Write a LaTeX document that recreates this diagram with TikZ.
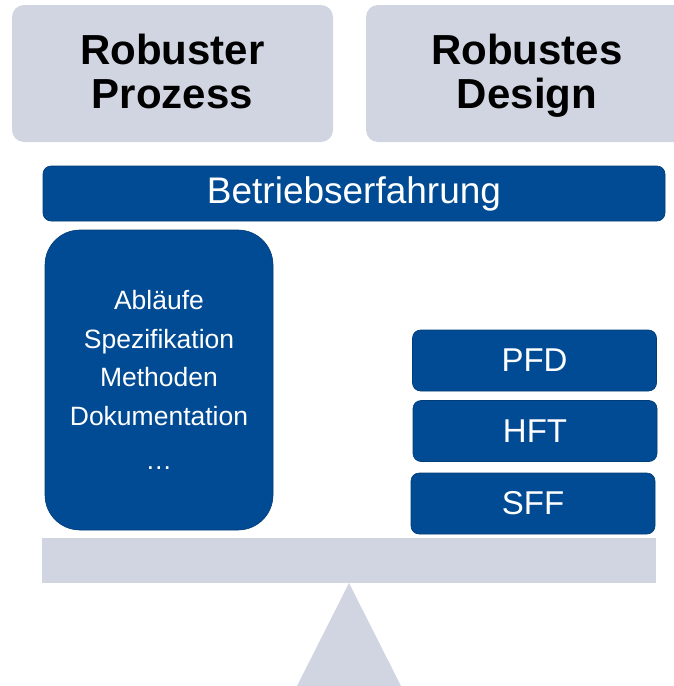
\documentclass[tikz,border=0pt]{standalone}
\usepackage{fontspec}
\setmainfont{Liberation Sans}
\usepackage{tikz}
\usetikzlibrary{positioning}
\definecolor{dunkelblau}{HTML}{004B93}
\definecolor{hellgrau}{HTML}{D0D5E1}

\begin{document}
\begin{tikzpicture}[x=1pt,y=-1pt,
    ziel/.style={rectangle, rounded corners=12pt, fill=hellgrau, minimum height=137pt},
    zieltext/.style={align=center, font=\fontsize{42}{44}\selectfont\bfseries},
    balken/.style={rectangle, rounded corners=8pt, fill=dunkelblau, draw=dunkelblau!80!black, line width=0.6pt, text=white},
    kachel/.style={balken, minimum width=244pt, minimum height=61pt, font=\fontsize{33}{36}\selectfont}]
    \useasboundingbox (0,0) rectangle (674,686);
    \node[ziel, minimum width=321pt] (prozess) at (172.5,73.5) {};
    \node[zieltext] (prozesstext) at (172.5,76) {Robuster\\Prozess\vphantom{g}};
    \node[ziel, minimum width=322pt] (design) at (527,73.5) {};
    \node[zieltext] (designtext) at (527,76) {Robustes\\Design};
    \node[balken, minimum width=622pt, minimum height=55pt, font=\fontsize{37}{40}\selectfont] (erfahrung) at (354,193.5) {Betriebserfahrung};
    \node[balken, rounded corners=35pt, minimum width=228pt, minimum height=300pt, align=center,
          font=\fontsize{26.5}{38.5}\selectfont] (prozessbox) at (159,380) {Abläufe\\Spezifikation\\Methoden\\Dokumentation\\[6pt]…};
    \node[kachel] (pfd) at (534.5,360.5) {PFD};
    \node[kachel] (hft) at (535,431) {HFT};
    \node[kachel] (sff) at (533,503.5) {SFF};
    % Waage
    \fill[hellgrau] (42,538) rectangle (656,583);
    \fill[hellgrau] (349,583) -- (297,686) -- (401,686) -- cycle;
\end{tikzpicture}
\end{document}
